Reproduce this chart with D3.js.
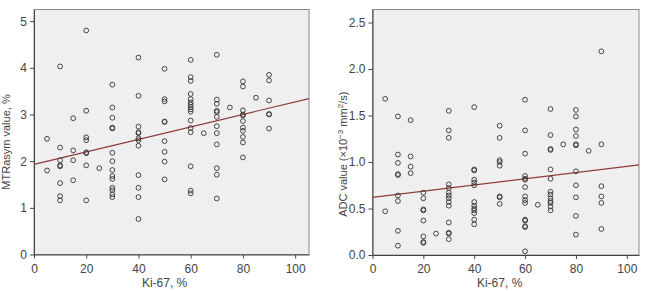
<!DOCTYPE html>
<html>
<head>
<meta charset="utf-8">
<script src="https://cdn.jsdelivr.net/npm/d3@7"></script>
<style>
body{margin:0;background:#fff}
svg{display:block;font-family:"Liberation Sans",Arial,sans-serif}
</style>
</head>
<body>
<svg id="chart" width="646" height="291"></svg>
<script>
// Ki-67 levels and values (one inner list per Ki-67 level)
let kiLevels=[5,10,15,20,25,30,40,50,60,65,70,75,80,85,90]
let mtrValues=[
 [2.48,1.80],
 [4.03,2.29,2.02,1.91,1.89,1.53,1.25,1.16],
 [2.92,2.23,2.02,1.59],
 [4.80,3.08,2.51,2.45,2.19,2.17,1.91,1.16],
 [1.85],
 [3.64,3.15,2.93,2.72,2.70,2.18,2.00,1.81,1.68,1.62,1.43,1.38,1.29,1.23],
 [4.22,3.40,2.74,2.62,2.60,2.49,2.45,2.33,1.70,1.43,1.23,0.76],
 [3.98,3.33,3.28,2.85,2.84,2.43,2.20,1.99,1.61],
 [4.17,3.80,3.72,3.44,3.33,3.26,3.21,3.16,3.11,3.06,2.87,2.71,2.62,1.89,1.37,1.31],
 [2.60],
 [4.28,3.32,3.23,3.08,3.05,2.95,2.75,2.60,2.36,1.85,1.71,1.20],
 [3.15],
 [3.71,3.60,3.09,3.00,2.98,2.86,2.72,2.65,2.52,2.40,2.08],
 [3.36],
 [3.85,3.73,3.30,3.01,3.00,2.70]
]
let adcValues=[
 [1.68,0.47],
 [1.49,1.08,0.99,0.87,0.86,0.64,0.58,0.26,0.10],
 [1.45,1.06,0.95,0.88],
 [0.67,0.61,0.49,0.48,0.37,0.20,0.14,0.13],
 [0.23],
 [1.55,1.34,1.26,0.76,0.72,0.67,0.64,0.61,0.57,0.53,0.35,0.24,0.23,0.17],
 [1.59,0.92,0.91,0.81,0.78,0.75,0.57,0.53,0.50,0.48,0.45,0.38,0.33],
 [1.39,1.26,1.02,1.00,0.96,0.63,0.62,0.55],
 [1.67,1.34,1.09,0.85,0.82,0.81,0.73,0.63,0.59,0.56,0.38,0.37,0.31,0.30,0.04],
 [0.54],
 [1.57,1.29,1.14,1.13,0.92,0.82,0.68,0.65,0.61,0.58,0.56,0.52,0.48],
 [1.19],
 [1.56,1.49,1.35,1.28,1.19,1.18,0.90,0.75,0.62,0.42,0.22],
 [1.12],
 [2.19,1.19,0.74,0.63,0.56,0.28]
]
let xTicks=[0,20,40,60,80,100]
let mtrTicks=[0,1,2,3,4,5]
let adcTicks=[0,0.5,1.0,1.5,2.0,2.5]
// fit lines: [intercept, slope]
let mtrFit=[1.93,0.0134]
let adcFit=[0.62,0.00333]

let svg=d3.select('#chart')

let drawPanel=(opt)=>{
 let xScale=d3.scaleLinear().domain(opt.xDomain).range([opt.left,opt.right])
 let yScale=d3.scaleLinear().domain(opt.yDomain).range([opt.bottom,opt.top])
 let g=svg.append('g')

 g.append('rect')
  .attr('x',opt.left).attr('y',opt.top)
  .attr('width',opt.right-opt.left).attr('height',opt.bottom-opt.top)
  .attr('fill','#efefef').attr('stroke','#8a8a8a').attr('stroke-width',1)

 let xAxis=d3.axisBottom(xScale).tickValues(xTicks).tickSize(4).tickSizeOuter(0).tickFormat(d3.format('d'))
 let yAxis=d3.axisLeft(yScale).tickValues(opt.yTicks).tickSize(4).tickSizeOuter(0).tickFormat(opt.yFormat)
 let gx=g.append('g').attr('transform','translate(0,'+opt.bottom+')').call(xAxis)
 let gy=g.append('g').attr('transform','translate('+opt.left+',0)').call(yAxis)
 ;[gx,gy].forEach(a=>{
  a.select('.domain').attr('stroke','#444')
  a.selectAll('.tick line').attr('stroke','#444')
  a.selectAll('.tick text').attr('fill','#444').style('font-size','12px')
 })
 gx.selectAll('.tick text').attr('dy','0.95em')

 // regression line
 let x0=opt.xDomain[0], x1=opt.xDomain[1]
 g.append('line')
  .attr('x1',xScale(x0)).attr('y1',yScale(opt.fit[0]+opt.fit[1]*x0))
  .attr('x2',xScale(x1)).attr('y2',yScale(opt.fit[0]+opt.fit[1]*x1))
  .attr('stroke','#8e3a3a').attr('stroke-width',1.2)

 let pts=[]
 kiLevels.forEach((k,i)=>opt.values[i].forEach(v=>pts.push({ki:k,v:v})))
 g.selectAll('circle').data(pts).enter().append('circle')
  .attr('cx',d=>xScale(d.ki)).attr('cy',d=>yScale(d.v))
  .attr('r',2.4).attr('fill','none').attr('stroke','#333').attr('stroke-width',0.9)

 g.append('text')
  .attr('x',(xScale(0)+xScale(100))/2).attr('y',opt.bottom+32)
  .attr('text-anchor','middle').attr('fill','#444').style('font-size','12px')
  .text('Ki-67, %')

 let yt=g.append('text')
  .attr('transform','translate('+opt.yTitleX+','+((opt.top+opt.bottom)/2+opt.yTitleShift)+') rotate(-90)')
  .attr('text-anchor','middle').attr('fill','#444').style('font-size','11px')
 opt.yTitle(yt)
}

drawPanel({
 left:34,right:309,top:9.5,bottom:254.5,
 xDomain:[0,105.3],yDomain:[0,5.25],
 yTicks:mtrTicks,yFormat:d3.format('d'),
 values:mtrValues,fit:mtrFit,
 yTitleX:10,yTitleShift:10,
 yTitle:t=>t.text('MTRasym value, %')
})

drawPanel({
 left:372.5,right:639,top:9.5,bottom:255,
 xDomain:[0,104.8],yDomain:[0,2.64],
 yTicks:adcTicks,yFormat:d3.format('.1f'),
 values:adcValues,fit:adcFit,
 yTitleX:347,yTitleShift:22,
 yTitle:t=>{
  t.append('tspan').text('ADC value (\u00d710')
  t.append('tspan').attr('dy','-4').style('font-size','8px').text('\u22123')
  t.append('tspan').attr('dy','4').text(' mm')
  t.append('tspan').attr('dy','-4').style('font-size','8px').text('2')
  t.append('tspan').attr('dy','4').text('/s)')
 }
})
</script>
</body>
</html>
